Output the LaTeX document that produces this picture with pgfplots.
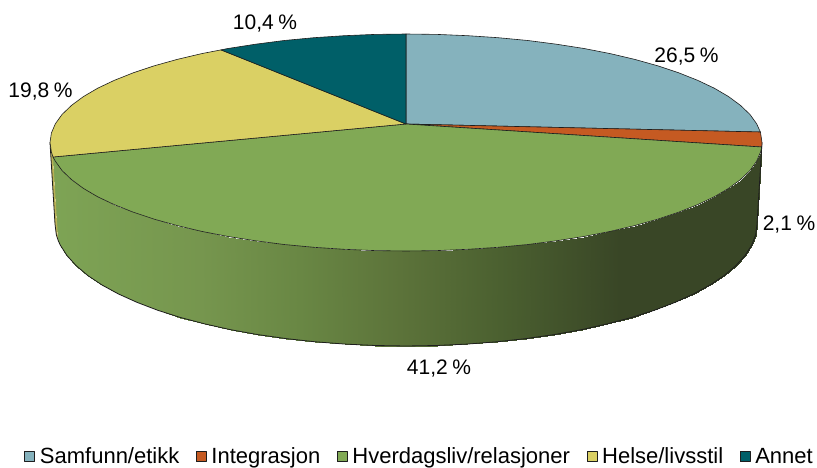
\documentclass[border=0pt]{standalone}
\usepackage{fontspec}
\setmainfont{Liberation Sans}
\usepackage{pgfplots}
\pgfplotsset{compat=1.18}

\definecolor{samfunn}{RGB}{133,178,189}
\definecolor{integrasjon}{RGB}{197,90,34}
\definecolor{hverdag}{RGB}{129,169,85}
\definecolor{helse}{RGB}{218,208,100}
\definecolor{annet}{RGB}{0,95,104}
\definecolor{outline}{RGB}{30,30,30}
\tikzset{lab/.style={font=\fontsize{21}{24}\selectfont, inner sep=0pt}}
\newcommand{\pct}{\hspace{.22em}\%}

\begin{document}
\begin{tikzpicture}
\begin{axis}[
    scale only axis, width=817pt, height=468pt,
    xmin=0, xmax=817, ymin=0, ymax=468,
    y dir=reverse, hide axis, clip=false,
    colormap={sidegreen}{
        rgb255(0pt)=(126,164,85);
        rgb255(150pt)=(118,150,78);
        rgb255(250pt)=(105,135,68);
        rgb255(350pt)=(92,115,58);
        rgb255(450pt)=(75,96,48);
        rgb255(570pt)=(57,70,38);
        rgb255(712pt)=(57,70,38)},
    point meta min=50, point meta max=762,
    legend columns=5,
    legend style={
        draw=none, fill=none,
        at={(axis cs:418.8,456.5)}, anchor=center,
        font=\fontsize{22}{26}\selectfont,
        /tikz/every odd column/.append style={column sep=4.5pt},
        /tikz/every even column/.append style={column sep=16pt},
        inner sep=0pt,
        nodes={inner xsep=0.5pt, inner ysep=0pt}},
    legend image code/.code={\draw[#1] (0pt,-5pt) rectangle (10pt,5pt);},
]
% side wall of the big slice
\addplot[surf, shader=interp, mesh/rows=2, point meta=x, forget plot] table {
x y
53 157
55.4 161.3
62.1 170.6
71.5 179.6
83.4 188.4
97.7 196.8
114.4 204.7
133.3 212.2
154.3 219.2
177.2 225.6
201.8 231.4
228 236.5
255.6 240.8
284.2 244.5
313.9 247.3
344.2 249.3
375 250.6
406 251
437 250.6
467.8 249.3
498.1 247.3
527.8 244.5
556.4 240.8
584 236.5
610.2 231.4
634.8 225.6
657.7 219.2
678.7 212.2
697.6 204.7
714.3 196.8
728.6 188.4
740.5 179.6
749.9 170.6
756.6 161.3
760.6 152
762 142.5
58.1 240.3
60.3 245.2
67 255.6
76.2 265.7
87.9 275.6
102 285
118.5 294
137.1 302.4
157.8 310.3
180.4 317.5
204.7 323.9
230.5 329.7
257.7 334.6
286 338.6
315.2 341.8
345.1 344.1
375.4 345.5
406 346
436.6 345.5
466.9 344.1
496.8 341.8
526 338.6
554.3 334.6
581.5 329.7
607.3 323.9
631.6 317.5
654.2 310.3
674.9 302.4
693.5 294
710 285
724.1 275.6
735.8 265.7
745 255.6
751.7 245.2
755.7 234.6
757 224
};
% yellow sliver on the far left
\addplot[fill=helse!85!black, draw=none, forget plot] coordinates {
(50,142.5) (51.4,152) (53,157) (58.1,240.3) (56.3,234.6) (55,224) (50,142.5)};
% outline of the wall
\addplot[draw=outline, line width=0.8pt, forget plot] coordinates {
(50,142.5) (55,224) (56.3,234.6) (58.1,240.3) (60.3,245.2) (67,255.6) (76.2,265.7)
(87.9,275.6) (102,285) (118.5,294) (137.1,302.4) (157.8,310.3) (180.4,317.5)
(204.7,323.9) (230.5,329.7) (257.7,334.6) (286,338.6) (315.2,341.8) (345.1,344.1)
(375.4,345.5) (406,346) (436.6,345.5) (466.9,344.1) (496.8,341.8) (526,338.6)
(554.3,334.6) (581.5,329.7) (607.3,323.9) (631.6,317.5) (654.2,310.3) (674.9,302.4)
(693.5,294) (710,285) (724.1,275.6) (735.8,265.7) (745,255.6) (751.7,245.2)
(755.7,234.6) (757,224) (762,142.5)};

% top face, one polygon per slice
\addplot[fill=samfunn, draw=outline, line width=0.6pt, line join=round] coordinates {
(406,124) (406,34) (437,34.4) (467.8,35.7) (498.1,37.7) (527.8,40.5) (556.4,44.2)
(584,48.5) (610.2,53.6) (634.8,59.4) (657.7,65.8) (678.7,72.8) (697.6,80.3)
(714.3,88.2) (728.6,96.6) (740.5,105.4) (749.9,114.4) (756.6,123.7) (760.4,132)
(406,124)};
\addlegendentry{Samfunn/etikk}
\addplot[fill=integrasjon, draw=outline, line width=0.6pt, line join=round] coordinates {
(406,124) (760.4,132) (760.6,133) (762,142.5) (761.7,147) (406,124)};
\addlegendentry{Integrasjon}
\addplot[fill=hverdag, draw=outline, line width=0.6pt, line join=round] coordinates {
(406,124) (761.7,147) (760.6,152) (756.6,161.3) (749.9,170.6) (740.5,179.6)
(728.6,188.4) (714.3,196.8) (697.6,204.7) (678.7,212.2) (657.7,219.2) (634.8,225.6)
(610.2,231.4) (584,236.5) (556.4,240.8) (527.8,244.5) (498.1,247.3) (467.8,249.3)
(437,250.6) (406,251) (375,250.6) (344.2,249.3) (313.9,247.3) (284.2,244.5)
(255.6,240.8) (228,236.5) (201.8,231.4) (177.2,225.6) (154.3,219.2) (133.3,212.2)
(114.4,204.7) (97.7,196.8) (83.4,188.4) (71.5,179.6) (62.1,170.6) (55.4,161.3)
(53,157) (406,124)};
\addlegendentry{Hverdagsliv/relasjoner}
\addplot[fill=helse, draw=outline, line width=0.6pt, line join=round] coordinates {
(406,124) (53,157) (51.4,152) (50,142.5) (51.4,133) (55.4,123.7) (62.1,114.4)
(71.5,105.4) (83.4,96.6) (97.7,88.2) (114.4,80.3) (133.3,72.8) (154.3,65.8)
(177.2,59.4) (201.8,53.6) (221,49.9) (406,124)};
\addlegendentry{Helse/livsstil}
\addplot[fill=annet, draw=outline, line width=0.6pt, line join=round] coordinates {
(406,124) (221,49.9) (228,48.5) (255.6,44.2) (284.2,40.5) (313.9,37.7) (344.2,35.7)
(375,34.4) (406,34) (406,124)};
\addlegendentry{Annet}

\node[lab] at (axis cs:686.5,57) {26,5\pct};
\node[lab] at (axis cs:265,24) {10,4\pct};
\node[lab] at (axis cs:40.5,92) {19,8\pct};
\node[lab] at (axis cs:789,225) {2,1\pct};
\node[lab] at (axis cs:439,369) {41,2\pct};
\end{axis}
\useasboundingbox (current axis.south west) rectangle (current axis.north east);
\end{tikzpicture}
\end{document}
